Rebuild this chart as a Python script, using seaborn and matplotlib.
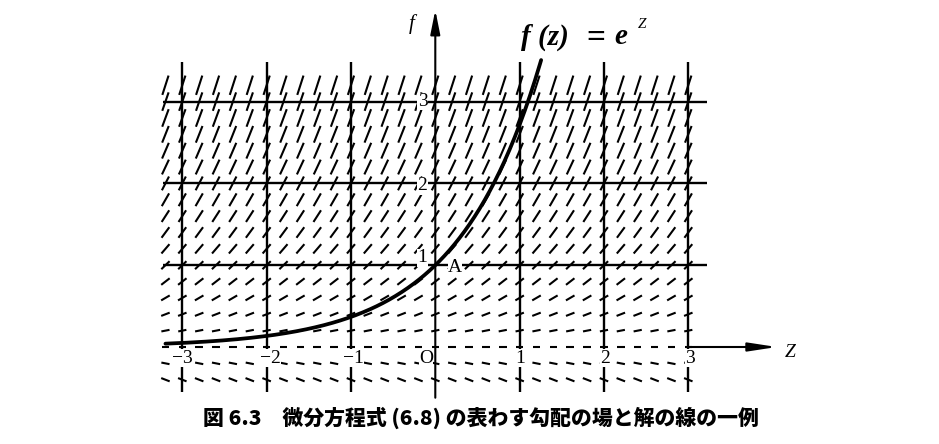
import numpy as np
import matplotlib
matplotlib.use("Agg")
import matplotlib.pyplot as plt
import seaborn as sns
from matplotlib.collections import LineCollection

# ---- data ----
z_cols = [-3.2, -3.0, -2.8, -2.6, -2.4, -2.2, -2.0, -1.8, -1.6, -1.4, -1.2,
          -1.0, -0.8, -0.6, -0.4, -0.2, 0.0, 0.2, 0.4, 0.6, 0.8, 1.0, 1.2,
          1.4, 1.6, 1.8, 2.0, 2.2, 2.4, 2.6, 2.8, 3.0]
f_rows = [-0.4, -0.2, 0.0, 0.2, 0.4, 0.6, 0.8, 1.0, 1.2, 1.4, 1.6, 1.8, 2.0,
          2.2, 2.4, 2.6, 2.8, 3.0, 3.2]
z_grid = [-3, -2, -1, 1, 2, 3]
z_tick_labels = ["\u22123", "\u22122", "\u22121", "1", "2", "3"]
f_grid = [1, 2, 3]
f_tick_labels = ["1", "2", "3"]
z_curve_start, z_curve_end = -3.2, 1.255
title_parts = ["f (z)", "=", "e", "Z"]
caption = "図 6.3\u3000微分方程式 (6.8) の表わす勾配の場と解の線の一例"

# ---- pixel geometry of the reference ----
W, H = 939, 444
Z0, ZS = 435.3, 84.33     # px of z=0, px per unit z
F0, FS = 347.0, 81.8      # px (from top) of f=0, px per unit f

def P(x, y):
    return ((x - Z0) / ZS, (F0 - y) / FS)

sns.set_style("white")
plt.rcParams["text.color"] = "black"
fig = plt.figure(figsize=(W / 100, H / 100), dpi=100)
ax = fig.add_axes([0, 0, 1, 1])
ax.set_xlim(-Z0 / ZS, (W - Z0) / ZS)
ax.set_ylim(-(H - F0) / FS, F0 / FS)
ax.axis("off")

# slope field: df/dz = f
segs = []
for f in f_rows:
    for z in z_cols:
        n = np.hypot(ZS, FS * f)
        L = 7.5 + 4.0 * abs(f)
        dz = (L / 2) / n
        segs.append([(z - dz, f - f * dz), (z + dz, f + f * dz)])
ax.add_collection(LineCollection(segs, colors="black", linewidths=1.5,
                                 capstyle="butt", zorder=3))

# grid lines
for zg in z_grid:
    ax.plot([zg, zg], [-0.55, 3.48], color="black", lw=1.7, zorder=2,
            solid_capstyle="butt")
for fg in f_grid:
    ax.plot([-3.23, 3.22], [fg, fg], color="black", lw=1.7, zorder=2,
            solid_capstyle="butt")

# axes with arrows
ax.annotate("", xy=(0, 4.12), xytext=(0, -0.62),
            arrowprops=dict(arrowstyle="-|>,head_length=1.45,head_width=0.29",
                            lw=1.5, color="black", shrinkA=0, shrinkB=0),
            zorder=4)
ax.annotate("", xy=(4.05, 0), xytext=(3.0, 0),
            arrowprops=dict(arrowstyle="-|>,head_length=1.7,head_width=0.26",
                            lw=1.5, color="black", shrinkA=0, shrinkB=0),
            zorder=4)

# solution curve f = e^z
zc = np.linspace(z_curve_start, z_curve_end, 300)
sns.lineplot(x=zc, y=np.exp(zc), ax=ax, color="black", lw=2.7,
             sort=False, zorder=5, solid_capstyle="round")

serif = ["Liberation Serif", "DejaVu Serif"]
bb = dict(facecolor="white", edgecolor="none", pad=0.3)
# tick labels
zl_px = [182, 270, 353, 520, 605, 690]
for lab, xp in zip(z_tick_labels, zl_px):
    ax.text(*P(xp, 358), lab, family=serif, fontsize=14, color="black",
            ha="center", va="center", zorder=6, bbox=bb)
fl_py = [258, 186, 101.5]
for lab, yp in zip(f_tick_labels, fl_py):
    ax.text(*P(427.5, yp), lab, family=serif, fontsize=14, color="black",
            ha="right", va="center", zorder=6, bbox=bb)
ax.text(*P(426, 358), "O", family=serif, fontsize=14, color="black",
        ha="center", va="center", zorder=6, bbox=bb)
ax.text(*P(455, 268), "A", family=serif, fontsize=14, color="black",
        ha="center", va="center", zorder=6, bbox=bb)
ax.text(*P(790, 352), "Z", family=serif, fontsize=14, style="italic",
        color="black", ha="center", va="center", zorder=6)
ax.text(*P(412, 24), "f", family=serif, fontsize=15, style="italic",
        color="black", ha="center", va="center", zorder=6)

# title formula  f(z) = e^Z
tk = dict(family=serif, fontsize=21, style="italic", weight="bold",
          color="black", va="center", zorder=6)
ax.text(*P(521, 37), title_parts[0], ha="left", **tk)
ax.text(*P(596, 38), title_parts[1], ha="center",
        **{**tk, "fontsize": 24, "style": "normal"})
ax.text(*P(614, 37), title_parts[2], ha="left", **tk)
ax.text(*P(642, 25), title_parts[3], family=serif, fontsize=11,
        style="italic", color="black", ha="center", va="center", zorder=6)

# caption
ax.text(*P(481, 418), caption,
        family=["Noto Sans CJK JP", "DejaVu Sans"], fontsize=15,
        weight="black", color="black", ha="center", va="center", zorder=6)

fig.savefig("out.png", dpi=100, facecolor="white")
